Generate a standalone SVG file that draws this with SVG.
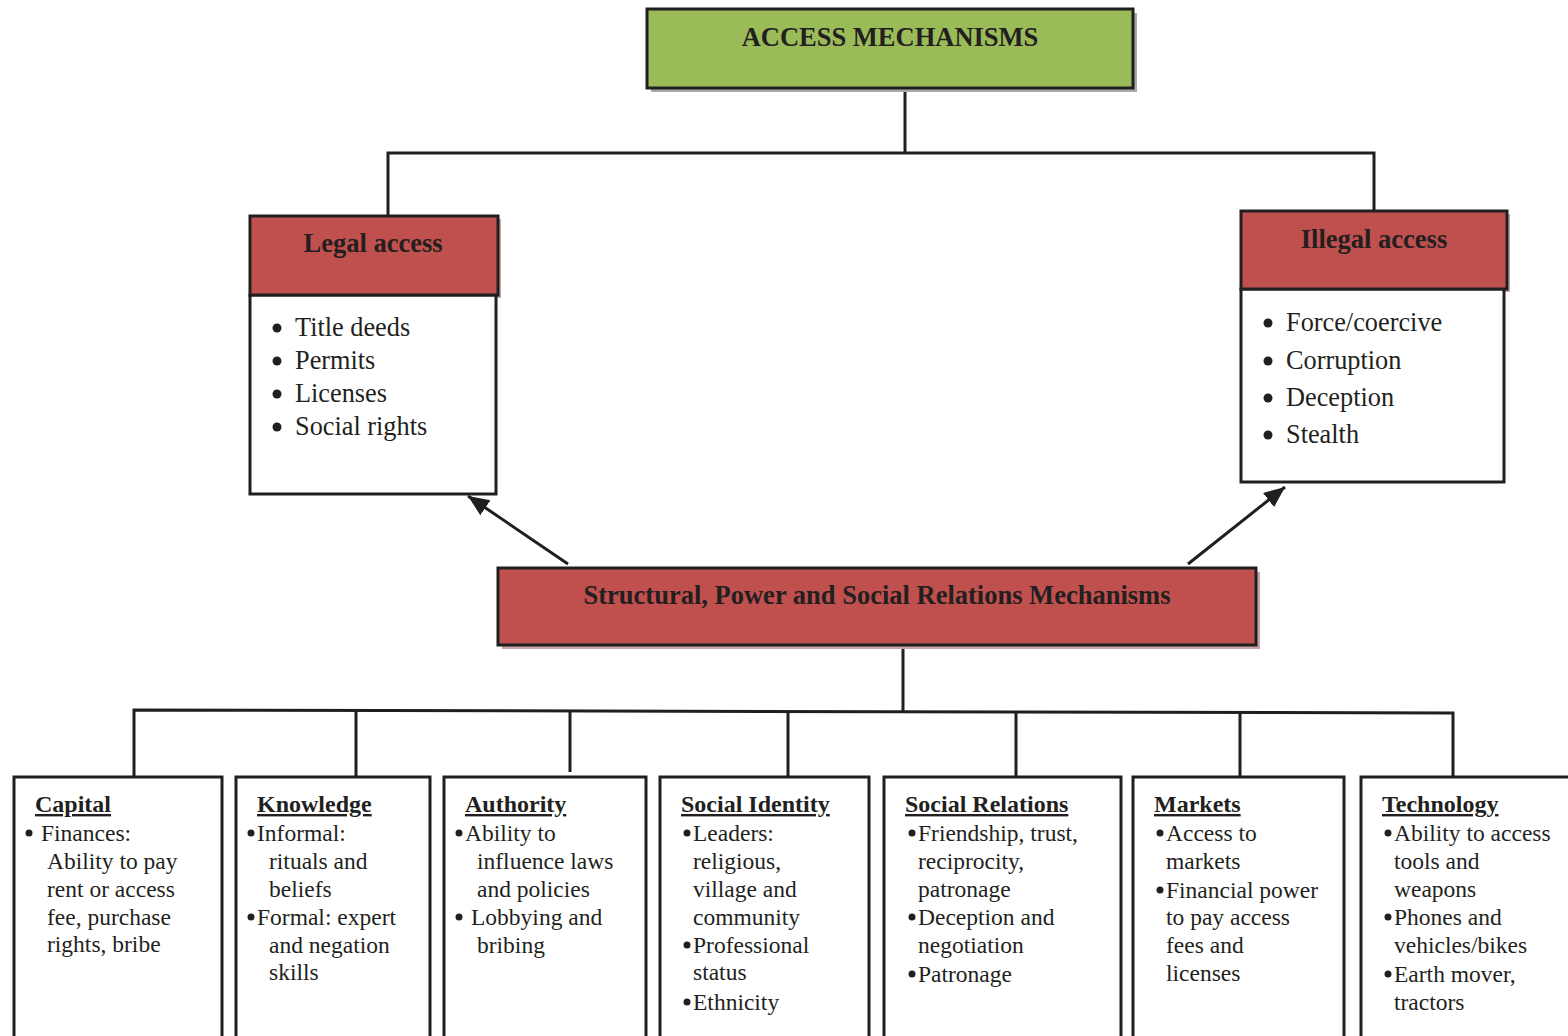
<svg xmlns="http://www.w3.org/2000/svg" width="1568" height="1036" viewBox="0 0 1568 1036">
<defs>
<style>
.box{stroke:#1f1f1f;stroke-width:3;fill:#fff}
.green{fill:#9BBB59}
.red{fill:#C0504D}
.sh{fill:#a9a9a9}
.shr{fill:#c9a3a3}
.ln{stroke:#1f1f1f;stroke-width:3;fill:none}
.hd{font-family:"Liberation Serif",serif;font-weight:bold;font-size:26.5px;fill:#231f20;text-anchor:middle}
.li{font-family:"Liberation Serif",serif;font-size:26.3px;fill:#231f20}
.tt{font-family:"Liberation Serif",serif;font-weight:bold;font-size:24px;fill:#231f20;text-decoration:underline}
.bt{font-family:"Liberation Serif",serif;font-size:23.5px;fill:#231f20}
.dot{fill:#231f20}
</style>
<marker id="ah" markerUnits="userSpaceOnUse" markerWidth="24" markerHeight="20" refX="21" refY="9" orient="auto">
<path d="M0,0 L21,9 L0,18 Z" fill="#1f1f1f"/>
</marker>
</defs>

<g id="connectors">
<polyline class="ln" points="905,88 905,153"/>
<polyline class="ln" points="388,216 388,153 1374,153 1374,211"/>
<line class="ln" x1="568" y1="564" x2="468" y2="496" marker-end="url(#ah)"/>
<line class="ln" x1="1188" y1="564" x2="1285" y2="487" marker-end="url(#ah)"/>
<polyline class="ln" points="903,645 903,711"/>
<polyline class="ln" points="134,777 134,710 1453,713 1453,777"/>
<line class="ln" x1="356" y1="711" x2="356" y2="777"/>
<line class="ln" x1="570" y1="711" x2="570" y2="772"/>
<line class="ln" x1="788" y1="711" x2="788" y2="777"/>
<line class="ln" x1="1016" y1="712" x2="1016" y2="777"/>
<line class="ln" x1="1240" y1="712" x2="1240" y2="777"/>
</g>

<g id="access-mechanisms">
<rect class="sh" x="651" y="13" width="486" height="79"/>
<rect class="box green" x="647" y="9" width="486" height="79"/>
<text class="hd" x="890" y="46">ACCESS MECHANISMS</text>
</g>

<g id="legal-access">
<rect class="shr" x="253" y="219" width="248" height="79"/>
<rect class="box" x="250" y="295" width="246" height="199"/>
<rect class="box red" x="250" y="216" width="248" height="79"/>
<text class="hd" x="373" y="252">Legal access</text>
<circle class="dot" cx="277" cy="328" r="4.5"/>
<circle class="dot" cx="277" cy="361" r="4.5"/>
<circle class="dot" cx="277" cy="394" r="4.5"/>
<circle class="dot" cx="277" cy="427" r="4.5"/>
<text class="li" x="295" y="336">Title deeds</text>
<text class="li" x="295" y="369">Permits</text>
<text class="li" x="295" y="402">Licenses</text>
<text class="li" x="295" y="435">Social rights</text>
</g>

<g id="illegal-access">
<rect class="shr" x="1244" y="214" width="266" height="78"/>
<rect class="box" x="1241" y="289" width="263" height="193"/>
<rect class="box red" x="1241" y="211" width="266" height="78"/>
<text class="hd" x="1374" y="248">Illegal access</text>
<circle class="dot" cx="1268" cy="323" r="4.5"/>
<circle class="dot" cx="1268" cy="361" r="4.5"/>
<circle class="dot" cx="1268" cy="398" r="4.5"/>
<circle class="dot" cx="1268" cy="435" r="4.5"/>
<text class="li" x="1286" y="331">Force/coercive</text>
<text class="li" x="1286" y="369">Corruption</text>
<text class="li" x="1286" y="406">Deception</text>
<text class="li" x="1286" y="443">Stealth</text>
</g>

<g id="structural-mechanisms">
<rect class="shr" x="502" y="572" width="758" height="77"/>
<rect class="box red" x="498" y="568" width="758" height="77"/>
<text class="hd" x="877" y="604">Structural, Power and Social Relations Mechanisms</text>
</g>

<g id="capital">
<rect class="box" x="14" y="777" width="208" height="270"/>
<text class="tt" x="35" y="812">Capital</text>
<circle class="dot" cx="29" cy="833" r="3.5"/>
<text class="bt" x="41" y="841">Finances:</text>
<text class="bt" x="47" y="869">Ability to pay</text>
<text class="bt" x="47" y="897">rent or access</text>
<text class="bt" x="47" y="925">fee, purchase</text>
<text class="bt" x="47" y="952">rights, bribe</text>
</g>

<g id="knowledge">
<rect class="box" x="236" y="777" width="194" height="270"/>
<text class="tt" x="257" y="812">Knowledge</text>
<circle class="dot" cx="251" cy="833" r="3.5"/>
<text class="bt" x="257" y="841">Informal:</text>
<text class="bt" x="269" y="869">rituals and</text>
<text class="bt" x="269" y="897">beliefs</text>
<circle class="dot" cx="251" cy="917" r="3.5"/>
<text class="bt" x="257" y="925">Formal: expert</text>
<text class="bt" x="269" y="953">and negation</text>
<text class="bt" x="269" y="980">skills</text>
</g>

<g id="authority">
<rect class="box" x="444" y="777" width="202" height="270"/>
<text class="tt" x="465" y="812">Authority</text>
<circle class="dot" cx="459" cy="833" r="3.5"/>
<text class="bt" x="465" y="841">Ability to</text>
<text class="bt" x="477" y="869">influence laws</text>
<text class="bt" x="477" y="897">and policies</text>
<circle class="dot" cx="459" cy="917" r="3.5"/>
<text class="bt" x="471" y="925">Lobbying and</text>
<text class="bt" x="477" y="953">bribing</text>
</g>

<g id="social-identity">
<rect class="box" x="660" y="777" width="209" height="270"/>
<text class="tt" x="681" y="812">Social Identity</text>
<circle class="dot" cx="687" cy="833" r="3.5"/>
<text class="bt" x="693" y="841">Leaders:</text>
<text class="bt" x="693" y="869">religious,</text>
<text class="bt" x="693" y="897">village and</text>
<text class="bt" x="693" y="925">community</text>
<circle class="dot" cx="687" cy="945" r="3.5"/>
<text class="bt" x="693" y="953">Professional</text>
<text class="bt" x="693" y="980">status</text>
<circle class="dot" cx="687" cy="1002" r="3.5"/>
<text class="bt" x="693" y="1010">Ethnicity</text>
</g>

<g id="social-relations">
<rect class="box" x="884" y="777" width="237" height="270"/>
<text class="tt" x="905" y="812">Social Relations</text>
<circle class="dot" cx="912" cy="833" r="3.5"/>
<text class="bt" x="918" y="841">Friendship, trust,</text>
<text class="bt" x="918" y="869">reciprocity,</text>
<text class="bt" x="918" y="897">patronage</text>
<circle class="dot" cx="912" cy="917" r="3.5"/>
<text class="bt" x="918" y="925">Deception and</text>
<text class="bt" x="918" y="953">negotiation</text>
<circle class="dot" cx="912" cy="974" r="3.5"/>
<text class="bt" x="918" y="982">Patronage</text>
</g>

<g id="markets">
<rect class="box" x="1133" y="777" width="211" height="270"/>
<text class="tt" x="1154" y="812">Markets</text>
<circle class="dot" cx="1160" cy="833" r="3.5"/>
<text class="bt" x="1166" y="841">Access to</text>
<text class="bt" x="1166" y="869">markets</text>
<circle class="dot" cx="1160" cy="890" r="3.5"/>
<text class="bt" x="1166" y="898">Financial power</text>
<text class="bt" x="1166" y="925">to pay access</text>
<text class="bt" x="1166" y="953">fees and</text>
<text class="bt" x="1166" y="981">licenses</text>
</g>

<g id="technology">
<rect class="box" x="1361" y="777" width="215" height="270"/>
<text class="tt" x="1382" y="812">Technology</text>
<circle class="dot" cx="1388" cy="833" r="3.5"/>
<text class="bt" x="1394" y="841">Ability to access</text>
<text class="bt" x="1394" y="869">tools and</text>
<text class="bt" x="1394" y="897">weapons</text>
<circle class="dot" cx="1388" cy="917" r="3.5"/>
<text class="bt" x="1394" y="925">Phones and</text>
<text class="bt" x="1394" y="953">vehicles/bikes</text>
<circle class="dot" cx="1388" cy="974" r="3.5"/>
<text class="bt" x="1394" y="982">Earth mover,</text>
<text class="bt" x="1394" y="1010">tractors</text>
</g>
</svg>
